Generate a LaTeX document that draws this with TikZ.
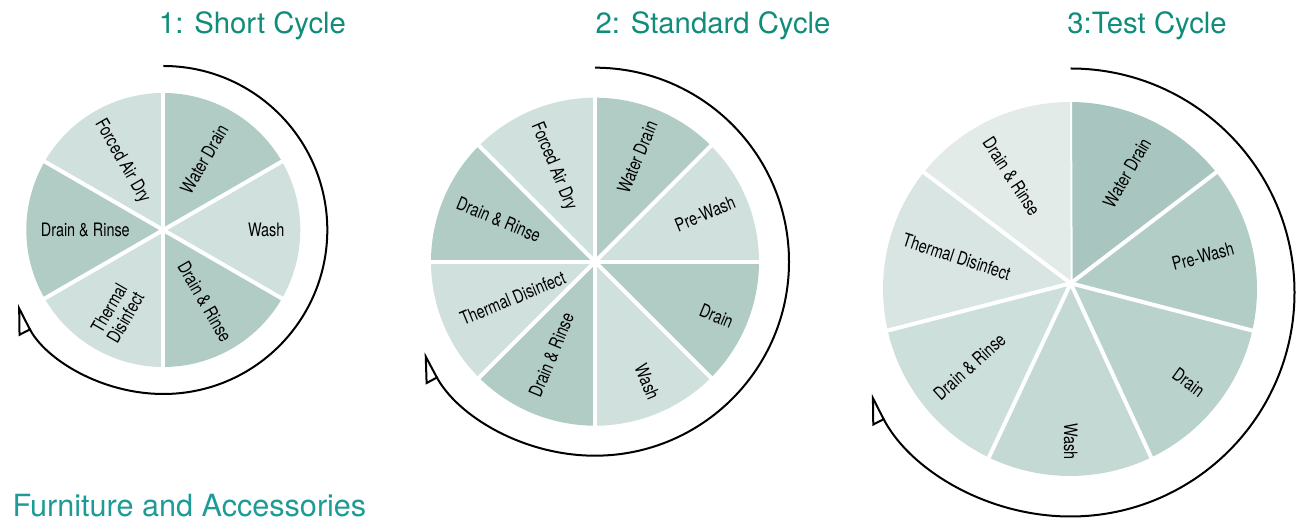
\documentclass[tikz,border=0pt]{standalone}
\usepackage{fontspec}
\setmainfont{TeX Gyre Heros}
\newfontfamily\labfont[FakeStretch=0.78]{TeX Gyre Heros}
\usetikzlibrary{arrows.meta,calc}

\definecolor{titleteal}{RGB}{16,140,122}
\definecolor{footteal}{RGB}{30,155,150}
\definecolor{segdark}{RGB}{177,204,197}
\definecolor{seglight}{RGB}{208,224,220}
\definecolor{segA}{RGB}{168,198,191}
\definecolor{segB}{RGB}{178,205,198}
\definecolor{segC}{RGB}{185,210,203}
\definecolor{segD}{RGB}{196,217,211}
\definecolor{segE}{RGB}{205,223,218}
\definecolor{segF}{RGB}{216,229,226}
\definecolor{segG}{RGB}{227,235,233}

\begin{document}
\begin{tikzpicture}[x=1pt,y=1pt,
  title/.style={anchor=base,text=titleteal,font=\fontsize{29.3}{31}\selectfont},
  seglabel/.style={font=\labfont\fontsize{18.5}{19}\selectfont,align=center,inner sep=0pt},
  spoke/.style={white,line width=4pt},
  cyclearc/.style={line width=2pt,-{Triangle[open,left,length=27pt,width=26pt]}}]
  \useasboundingbox (0,0) rectangle (1298,518);

  % titles
  \node (t1) at (252.5,484.7) [title] {1: Short Cycle};
  \node (t2) at (713,484.7) [title] {2: Standard Cycle};
  \node (t3) at (1147,484.7) [title] {3:Test Cycle};
  \node (furn) at (9,1.5) [anchor=base west,text=footteal,font=\fontsize{30.6}{32}\selectfont] {Furniture and Accessories};

  % short cycle
  \coordinate (hub1) at (163.3,288);
  \foreach \a/\c in {90/segdark,30/seglight,-30/segdark,-90/seglight,-150/segdark,150/seglight}
    \fill[\c] (hub1) -- ++(\a:137) arc[start angle=\a,delta angle=-60,radius=137] -- cycle;
  \foreach \a in {90,30,...,-210}
    \draw[spoke] (hub1) -- ++(\a:139);
  \node (s1a) at ($(hub1)+(60:82)$) [seglabel,rotate=60] {Water Drain};
  \node (s1b) at ($(hub1)+(0:103)$) [seglabel] {Wash};
  \node (s1c) at ($(hub1)+(-60:83)$) [seglabel,rotate=-60] {Drain \& Rinse};
  \node (s1d) at ($(hub1)+(-119:95)$) [seglabel,rotate=60] {Thermal\\Disinfect};
  \node (s1e) at ($(hub1)+(180:78)$) [seglabel] {Drain \& Rinse};
  \node (s1f) at ($(hub1)+(121:80)$) [seglabel,rotate=-60] {Forced Air Dry};
  \draw[cyclearc] ($(hub1)+(90:164)$) arc[start angle=90,end angle=-153,radius=164];

  % standard cycle
  \coordinate (hub2) at (595,256.3);
  \foreach \a/\c in {90/segdark,45/seglight,0/segdark,-45/seglight,-90/segdark,-135/seglight,180/segdark,135/seglight}
    \fill[\c] (hub2) -- ++(\a:164) arc[start angle=\a,delta angle=-45,radius=164] -- cycle;
  \foreach \a in {90,45,...,-225}
    \draw[spoke] (hub2) -- ++(\a:166);
  \node (s2a) at ($(hub2)+(68:113)$) [seglabel,rotate=67.5] {Water Drain};
  \node (s2b) at ($(hub2)+(23.5:120)$) [seglabel,rotate=22.5] {Pre-Wash};
  \node (s2c) at ($(hub2)+(-24:133)$) [seglabel,rotate=-22.5] {Drain};
  \node (s2d) at ($(hub2)+(-66.5:131)$) [seglabel,rotate=-67.5] {Wash};
  \node (s2e) at ($(hub2)+(-115:103)$) [seglabel,rotate=67.5] {Drain \& Rinse};
  \node (s2f) at ($(hub2)+(-156:90)$) [seglabel,rotate=22.5] {Thermal Disinfect};
  \node (s2g) at ($(hub2)+(156.5:105)$) [seglabel,rotate=-22.5] {Drain \& Rinse};
  \node (s2h) at ($(hub2)+(113.5:104)$) [seglabel,rotate=-67.5] {Forced Air Dry};
  \draw[cyclearc] ($(hub2)+(90:194)$) arc[start angle=90,end angle=-152,radius=194];

  % test cycle
  \coordinate (hub3) at (1070.7,234.7);
  \coordinate (rim3) at (1070,229);
  \coordinate (arc3) at (1070.5,225.5);
  \foreach \i/\c in {0/segA,1/segB,2/segC,3/segD,4/segE,5/segF,6/segG} {
    \pgfmathsetmacro\a{90-\i*360/7}
    \fill[\c] (hub3) -- ($(rim3)+(\a:187)$) arc[start angle=\a,delta angle=-360/7,radius=187] -- cycle;
    \draw[spoke] (hub3) -- ($(rim3)+(\a:189)$);
  }
  \node (s3a) at ($(hub3)+(63:124)$) [seglabel,rotate=60] {Water Drain};
  \node (s3b) at ($(hub3)+(11.5:135)$) [seglabel,rotate=15] {Pre-Wash};
  \node (s3c) at ($(hub3)+(-40:154)$) [seglabel,rotate=-36] {Drain};
  \node (s3d) at ($(hub3)+(-90:158)$) [seglabel,rotate=-90] {Wash};
  \node (s3e) at ($(hub3)+(-140.5:131)$) [seglabel,rotate=42] {Drain \& Rinse};
  \node (s3f) at ($(hub3)+(167:117)$) [seglabel,rotate=-18] {Thermal Disinfect};
  \node (s3g) at ($(hub3)+(119:122)$) [seglabel,rotate=-57] {Drain \& Rinse};
  \draw[cyclearc] ($(arc3)+(90:224)$) arc[start angle=90,end angle=-153,radius=224];
\end{tikzpicture}
\end{document}
